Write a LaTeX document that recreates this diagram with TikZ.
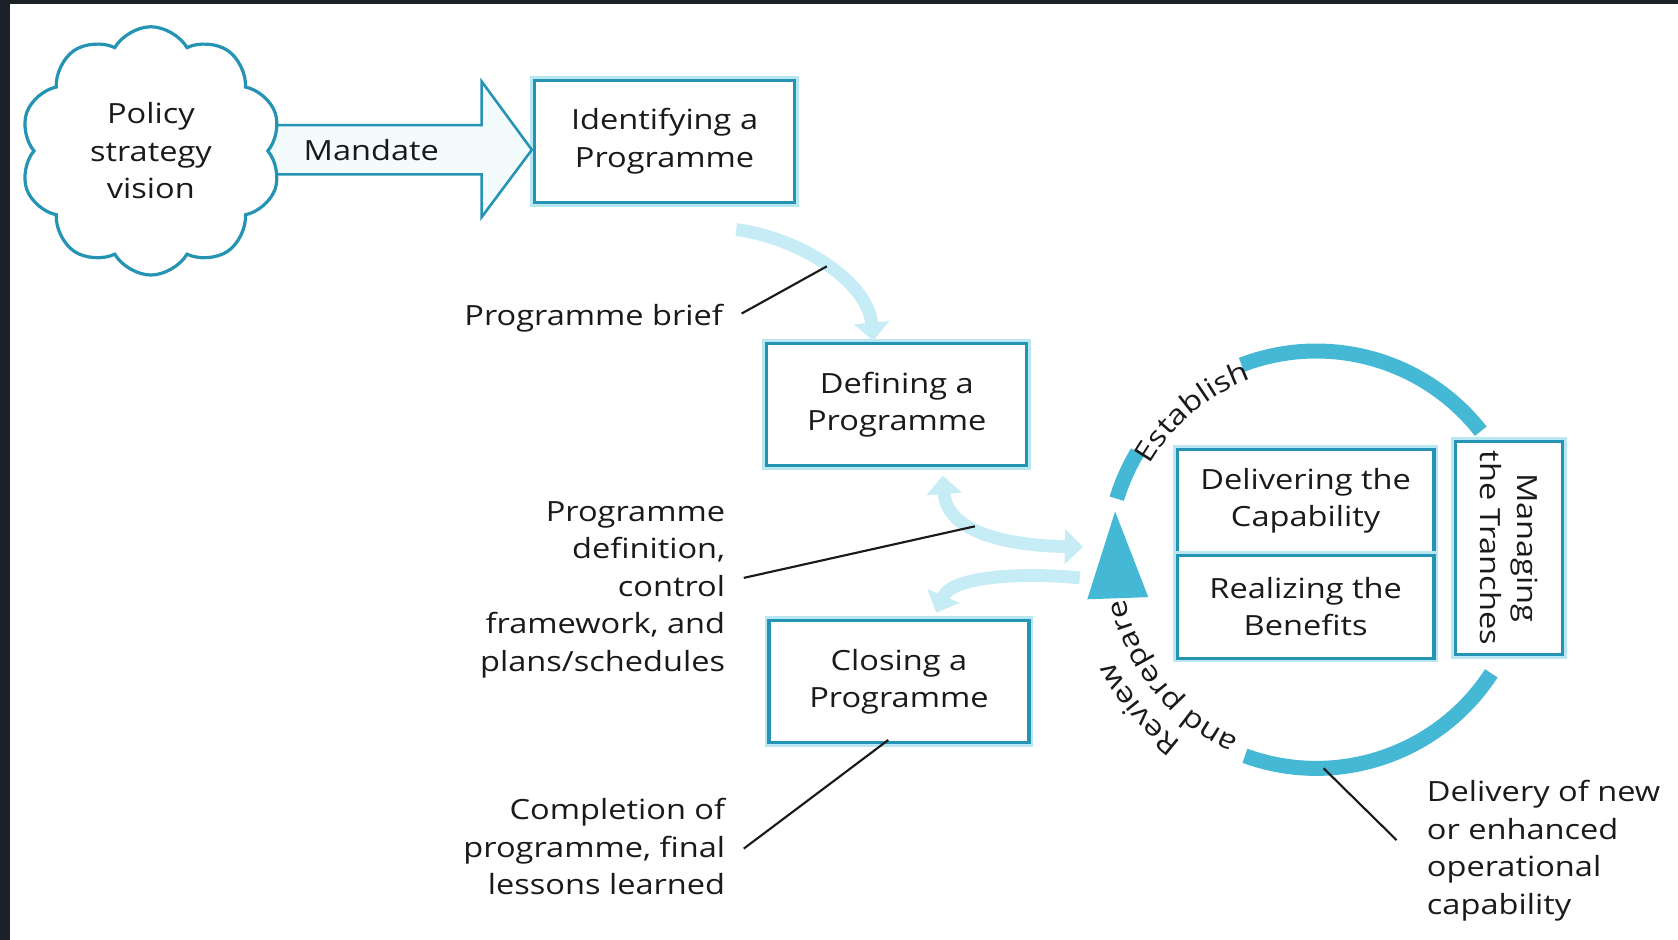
\documentclass[tikz,border=0pt]{standalone}
\usepackage{fontspec}
\setmainfont{Open Sans}[FakeStretch=1.17]
\usetikzlibrary{positioning}
\usetikzlibrary{shapes.symbols}
\usetikzlibrary{arrows.meta}
\usetikzlibrary{decorations.text}
\definecolor{frame}{HTML}{1B2129}
\definecolor{tealline}{HTML}{2593B3}
\definecolor{halo}{HTML}{B8E7F2}
\definecolor{ringcol}{HTML}{45B8D6}
\definecolor{flowcol}{HTML}{C6EDF6}
\definecolor{arrowfill}{HTML}{F4FBFD}
\definecolor{inkcol}{HTML}{1A1A1A}
\tikzset{
    fat/.tip={Triangle[width=16pt,length=8.5pt]}, % head of the light flow arrows
    stage/.style={ % one stage box of the programme
        draw=tealline, line width=1.5pt, fill=white,
        preaction={draw=halo, line width=4pt},
        align=center, text=inkcol,
        minimum width=121.5pt, minimum height=57pt
    },
    part/.style={ % boxes of the tranche cycle
        stage, minimum width=120pt, minimum height=48pt
    },
    vision/.style={
        cloud, cloud puffs=10, cloud puff arc=120, aspect=1,
        draw=tealline, line width=1.5pt, fill=white,
        minimum width=122pt, minimum height=116pt,
        align=center, text=inkcol
    },
    mandate/.style={draw=tealline, line width=1.2pt, fill=arrowfill},
    flow/.style={draw=flowcol, line width=6pt},
    note/.style={inner sep=0pt, text=inkcol},
    leader/.style={draw=inkcol, line width=1pt},
    ring/.style={draw=ringcol, line width=7pt},
    arclabel/.style={decorate, decoration={text along path, text align=center, text color=inkcol}}
}

\begin{document}
\begin{tikzpicture}[x=0.5pt, y=0.5pt]
    \fontsize{13}{17.5}\selectfont
    \useasboundingbox (0,0) rectangle (1568,-878);
    \fill[frame] (0,0) rectangle (1568,-878);
    \fill[white] (9,-4) rectangle (1568,-878);

    % stages
    \node[stage] (ident) at (621,-132) {Identifying a\\Programme};
    \node[stage] (define) at (838,-378) {Defining a\\Programme};
    \node[stage] (closing) at (840,-637) {Closing a\\Programme};
    \node[part] (deliver) at (1220,-468) {Delivering the\\Capability};
    \node[part, below=0pt of deliver] (realize) {Realizing the\\Benefits};
    \node[part, rotate=-90, minimum width=99.5pt, minimum height=50pt] (tranche) at (1410,-512) {Managing\\the Tranches};

    % mandate arrow, cloud drawn over its tail
    \coordinate (mandtip) at (497,-140);
    \draw[mandate] ([shift={(-47,23)}]mandtip) -- ++(0,41) -- (mandtip) -- ++(-47,-63) -- ++(0,40) -- (141,-163) -- (141,-117) -- cycle;
    \node[vision] (cloud) at (141,-141) {Policy\\strategy\\vision};
    \node[note] (mandlbl) at (347,-140) {Mandate};

    % tranche cycle
    \coordinate (cyc) at (1230,-523);
    \draw[ring] (cyc) ++(38:195) arc[start angle=38, end angle=111, radius=195];
    \draw[ring] (cyc) ++(149:195) arc[start angle=149, end angle=163, radius=195];
    \draw[ring] (cyc) ++(250:195) arc[start angle=250, end angle=327, radius=195];
    \fill[ringcol] (1016,-560) -- (1042,-478) -- (1073,-558) -- cycle;
    \path[arclabel, decoration={text={Establish}}] (cyc) ++(154:179) arc[start angle=154, end angle=106, radius=179];
    \path[arclabel, decoration={text={Review}}] (cyc) ++(255:212) arc[start angle=255, end angle=185, radius=212];
    \path[arclabel, decoration={text={and prepare}}] (cyc) ++(258:182) arc[start angle=258, end angle=180, radius=182];
    \coordinate (bottompt) at ([shift={(272:195)}]cyc);

    % flows between stages
    \draw[flow, -fat] ([shift={(67,-24)}]ident.south) .. controls +(60,-8) and +(-5,55) .. ([shift={(-22,1)}]define.north) coordinate[pos=0.5] (briefpt);
    \draw[flow, fat-fat] ([shift={(43,-8)}]define.south) .. controls +(4,-56) and +(-62,1) .. ([shift={(-218,12)}]cyc) coordinate[pos=0.4] (dblpt);
    \draw[flow, -fat] ([shift={(-221,-17)}]cyc) .. controls +(-49,5) and +(15,35) .. ([shift={(35,6)}]closing.north);

    % outputs
    \node[note, anchor=east] (brieflbl) at (676,-297) {Programme brief};
    \node[note, anchor=east, align=right] (deflbl) at (678,-551) {Programme\\definition,\\control\\framework, and\\plans/schedules};
    \node[note, anchor=east, align=right] (compllbl) at (678,-791) {Completion of\\programme, final\\lessons learned};
    \node[note, anchor=west, align=left] (delivlbl) at (1333,-795) {Delivery of new\\or enhanced\\operational\\capability};

    \draw[leader] ([shift={(17,4)}]brieflbl.east) -- (briefpt);
    \draw[leader] ([shift={(17,11)}]deflbl.east) -- (dblpt);
    \draw[leader] ([shift={(17,-2)}]compllbl.east) -- ([shift={(-10,4)}]closing.south);
    \draw[leader] ([shift={(-28,10)}]delivlbl.west) -- (bottompt);
\end{tikzpicture}
\end{document}
